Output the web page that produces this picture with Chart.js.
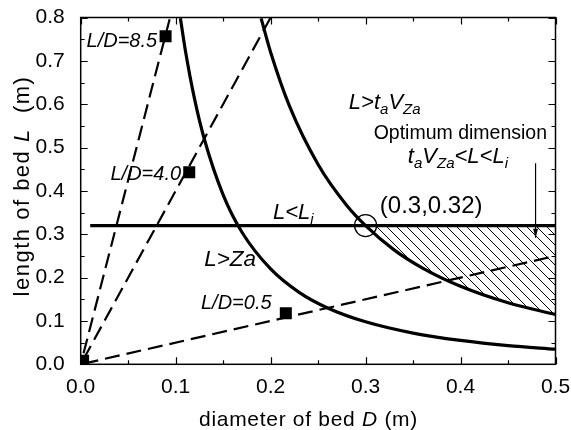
<!DOCTYPE html>
<html lang="en">
<head>
<meta charset="UTF-8" />
<title>Bed dimension chart</title>
<script src="https://cdn.jsdelivr.net/npm/chart.js"></script>
<style>
  html, body { margin: 0; padding: 0; background: #fff; }
</style>
</head>
<body>
<canvas id="chart" width="571" height="430"></canvas>
<script>
// L > ta*VZa curve
const taVzaD = [0.19, 0.20, 0.22, 0.25, 0.28, 0.30, 0.33, 0.36, 0.40, 0.45, 0.50];
const taVzaL = [0.798, 0.72, 0.595, 0.461, 0.367, 0.32, 0.264, 0.222, 0.18, 0.142, 0.115];

// L > Za curve
const zaD = [0.105, 0.11, 0.12, 0.13, 0.15, 0.17, 0.20, 0.23, 0.26, 0.30, 0.35, 0.40, 0.45, 0.50];
const zaL = [0.798, 0.727, 0.611, 0.521, 0.391, 0.304, 0.22, 0.166, 0.13, 0.098, 0.072, 0.055, 0.043, 0.035];

// L < Li line
const liD = [0.01, 0.5];
const liL = [0.32, 0.32];

// hatched optimum region (upper curve from 0.3 to 0.5, filled up to Li)
const optD = [0.30, 0.33, 0.36, 0.40, 0.45, 0.50];
const optL = [0.32, 0.264, 0.222, 0.18, 0.142, 0.115];

// L/D ratio lines
const ratio85D = [0.003, 0.0941];
const ratio85L = [0.0255, 0.8];
const ratio40D = [0.003, 0.2];
const ratio40L = [0.012, 0.8];
const ratio05D = [0.003, 0.5];
const ratio05L = [0.0015, 0.25];

// square markers
const markD = [0.0025, 0.0894, 0.1143, 0.216];
const markL = [0.008, 0.757, 0.443, 0.118];

// intersection circle
const crossD = [0.3];
const crossL = [0.32];

// arrow to hatched area
const arrowD = [0.479, 0.479];
const arrowL = [0.464, 0.292];

// text notes in data coordinates
const notes = [
  { text: "L/D=8.5", d: 0.0805, l: 0.745, size: 20, italic: true, align: "right" },
  { text: "L/D=4.0", d: 0.1057, l: 0.439, size: 20, italic: true, align: "right" },
  { text: "L/D=0.5", d: 0.201, l: 0.141, size: 20, italic: true, align: "right" },
  { text: "L>Za", d: 0.130, l: 0.241, size: 22.5, italic: true, align: "left" },
  { text: "L<L_{i}", d: 0.2025, l: 0.349, size: 22, italic: true, align: "left" },
  { text: "L>t_{a}V_{Za}", d: 0.2824, l: 0.603, size: 22, italic: true, align: "left" },
  { text: "Optimum dimension", d: 0.3998, l: 0.533, size: 19.5, italic: false, align: "center" },
  { text: "t_{a}V_{Za}<L<L_{i}", d: 0.3445, l: 0.478, size: 22, italic: true, align: "left" },
  { text: "(0.3,0.32)", d: 0.315, l: 0.364, size: 24, italic: false, align: "left" },
];

const FONT = "'Liberation Sans', Arial, sans-serif";

const pts = (xs, ys) => xs.map((v, i) => ({ x: v, y: ys[i] }));

// hatch pattern
function hatch() {
  const c = document.createElement("canvas");
  c.width = 10;
  c.height = 10;
  const g = c.getContext("2d");
  g.strokeStyle = "#000";
  g.lineWidth = 1;
  g.beginPath();
  g.moveTo(-1, -1); g.lineTo(11, 11);
  g.moveTo(-1, 9); g.lineTo(1, 11);
  g.moveTo(9, -1); g.lineTo(11, 1);
  g.stroke();
  return g.createPattern(c, "repeat");
}

// parse "a_{b}c" into segments
function segments(str) {
  const out = [];
  const re = /_\{([^}]*)\}|([^_]+)/g;
  let m;
  while ((m = re.exec(str))) {
    if (m[1] !== undefined) out.push({ t: m[1], sub: true });
    else out.push({ t: m[2], sub: false });
  }
  return out;
}

function drawRich(ctx, str, px, py, size, italic, align) {
  const segs = segments(str);
  const st = italic ? "italic " : "";
  const subSize = Math.round(size * 0.68);
  let w = 0;
  segs.forEach((s) => {
    ctx.font = st + (s.sub ? subSize : size) + "px " + FONT;
    s.w = ctx.measureText(s.t).width;
    w += s.w;
  });
  let x0 = px;
  if (align === "right") x0 = px - w;
  if (align === "center") x0 = px - w / 2;
  ctx.textAlign = "left";
  ctx.textBaseline = "middle";
  segs.forEach((s) => {
    ctx.font = st + (s.sub ? subSize : size) + "px " + FONT;
    ctx.fillText(s.t, x0, s.sub ? py + size * 0.3 : py);
    x0 += s.w;
  });
}

// draws a title made of [text, italic] pieces centred at (0,0)
function drawTitle(ctx, pieces, size, spacing) {
  ctx.letterSpacing = spacing + "px";
  let w = 0;
  pieces.forEach((p) => {
    ctx.font = (p[1] ? "italic " : "") + size + "px " + FONT;
    p.w = ctx.measureText(p[0]).width;
    w += p.w;
  });
  let x0 = -w / 2;
  ctx.textAlign = "left";
  ctx.textBaseline = "middle";
  pieces.forEach((p) => {
    ctx.font = (p[1] ? "italic " : "") + size + "px " + FONT;
    ctx.fillText(p[0], x0, 0);
    x0 += p.w;
  });
  ctx.letterSpacing = "0px";
}

const decor = {
  id: "decor",
  beforeDraw(chart) {
    const ctx = chart.ctx;
    ctx.save();
    ctx.fillStyle = "#fff";
    ctx.fillRect(0, 0, chart.width, chart.height);
    ctx.restore();
  },
  afterDatasetsDraw(chart) {
    const { ctx, chartArea: a, scales } = chart;
    const x = scales.x, y = scales.y;
    ctx.save();
    ctx.strokeStyle = "#000";
    ctx.fillStyle = "#000";

    // frame
    ctx.lineWidth = 1.5;
    ctx.strokeRect(a.left, a.top, a.right - a.left, a.bottom - a.top);

    // inward ticks, all four sides
    ctx.lineWidth = 1.2;
    ctx.beginPath();
    x.ticks.forEach((t) => {
      [[t.value, 7], [t.value + 0.05, 4]].forEach(([v, len]) => {
        if (v > x.max + 1e-9) return;
        const px = Math.round(x.getPixelForValue(v)) + 0.5;
        ctx.moveTo(px, a.bottom); ctx.lineTo(px, a.bottom - len);
        ctx.moveTo(px, a.top); ctx.lineTo(px, a.top + len);
      });
    });
    y.ticks.forEach((t) => {
      [[t.value, 7], [t.value + 0.05, 4]].forEach(([v, len]) => {
        if (v > y.max + 1e-9) return;
        const py = Math.round(y.getPixelForValue(v)) + 0.5;
        ctx.moveTo(a.left, py); ctx.lineTo(a.left + len, py);
        ctx.moveTo(a.right, py); ctx.lineTo(a.right - len, py);
      });
    });
    ctx.stroke();

    // arrow head
    const ax = x.getPixelForValue(arrowD[1]);
    const ay = y.getPixelForValue(arrowL[1]);
    ctx.beginPath();
    ctx.moveTo(ax, ay);
    ctx.lineTo(ax - 2.5, ay - 9);
    ctx.lineTo(ax + 2.5, ay - 9);
    ctx.closePath();
    ctx.fill();

    // notes
    notes.forEach((n) => {
      drawRich(ctx, n.text, x.getPixelForValue(n.d), y.getPixelForValue(n.l), n.size, n.italic, n.align);
    });

    // axis titles
    ctx.save();
    ctx.translate(308.5, 420);
    drawTitle(ctx, [["diameter of bed ", false], ["D", true], [" (m)", false]], 21, 0.7);
    ctx.restore();

    ctx.save();
    ctx.translate(23, 186);
    ctx.rotate(-Math.PI / 2);
    drawTitle(ctx, [["length of bed ", false], ["L", true], ["  (m)", false]], 22, 1.5);
    ctx.restore();

    ctx.restore();
  },
};

const solid = (xs, ys, w) => ({
  data: pts(xs, ys),
  showLine: true,
  borderColor: "#000",
  borderWidth: w,
  pointRadius: 0,
  fill: false,
  cubicInterpolationMode: "monotone",
});

const dashed = (xs, ys) => ({
  data: pts(xs, ys),
  showLine: true,
  borderColor: "#000",
  borderWidth: 2.2,
  borderDash: [15, 7],
  pointRadius: 0,
  fill: false,
});

new Chart(document.getElementById("chart"), {
  type: "scatter",
  data: {
    datasets: [
      {
        data: pts(markD, markL),
        pointStyle: "rect",
        pointRadius: 8.5,
        backgroundColor: "#000",
        borderColor: "#000",
        borderWidth: 0,
      },
      {
        data: pts(crossD, crossL),
        pointStyle: "circle",
        pointRadius: 11,
        backgroundColor: "rgba(0,0,0,0)",
        borderColor: "#000",
        borderWidth: 1.3,
      },
      {
        data: pts(arrowD, arrowL),
        showLine: true,
        borderColor: "#000",
        borderWidth: 1.2,
        pointRadius: 0,
      },
      solid(taVzaD, taVzaL, 3.2),
      solid(zaD, zaL, 3.2),
      solid(liD, liL, 3.2),
      dashed(ratio85D, ratio85L),
      dashed(ratio40D, ratio40L),
      dashed(ratio05D, ratio05L),
      {
        data: pts(optD, optL),
        showLine: true,
        borderWidth: 0,
        borderColor: "rgba(0,0,0,0)",
        pointRadius: 0,
        backgroundColor: hatch(),
        fill: { value: 0.32 },
        cubicInterpolationMode: "monotone",
      },
    ],
  },
  options: {
    responsive: false,
    animation: false,
    // plot area: 80.7..555.5 x 17.5..364.3
    layout: { padding: { top: 17.5, right: 15.5, left: 0, bottom: 0 } },
    plugins: {
      legend: { display: false },
      tooltip: { enabled: false },
    },
    scales: {
      x: {
        type: "linear",
        min: 0,
        max: 0.5,
        grid: { display: false },
        border: { display: false },
        ticks: {
          stepSize: 0.1,
          padding: 2,
          color: "#000",
          font: { family: FONT, size: 21 },
          callback: (v) => v.toFixed(1),
        },
        afterFit: (s) => {
          s.height = 65.7;
          s.paddingLeft = 0;
          s.paddingRight = 0;
        },
      },
      y: {
        type: "linear",
        min: 0,
        max: 0.8,
        grid: { display: false },
        border: { display: false },
        ticks: {
          stepSize: 0.1,
          padding: 8,
          color: "#000",
          font: { family: FONT, size: 21 },
          callback: (v) => v.toFixed(1),
        },
        afterFit: (s) => {
          s.width = 80.7;
          s.paddingTop = 0;
          s.paddingBottom = 0;
        },
      },
    },
  },
  plugins: [decor],
});
</script>
</body>
</html>
